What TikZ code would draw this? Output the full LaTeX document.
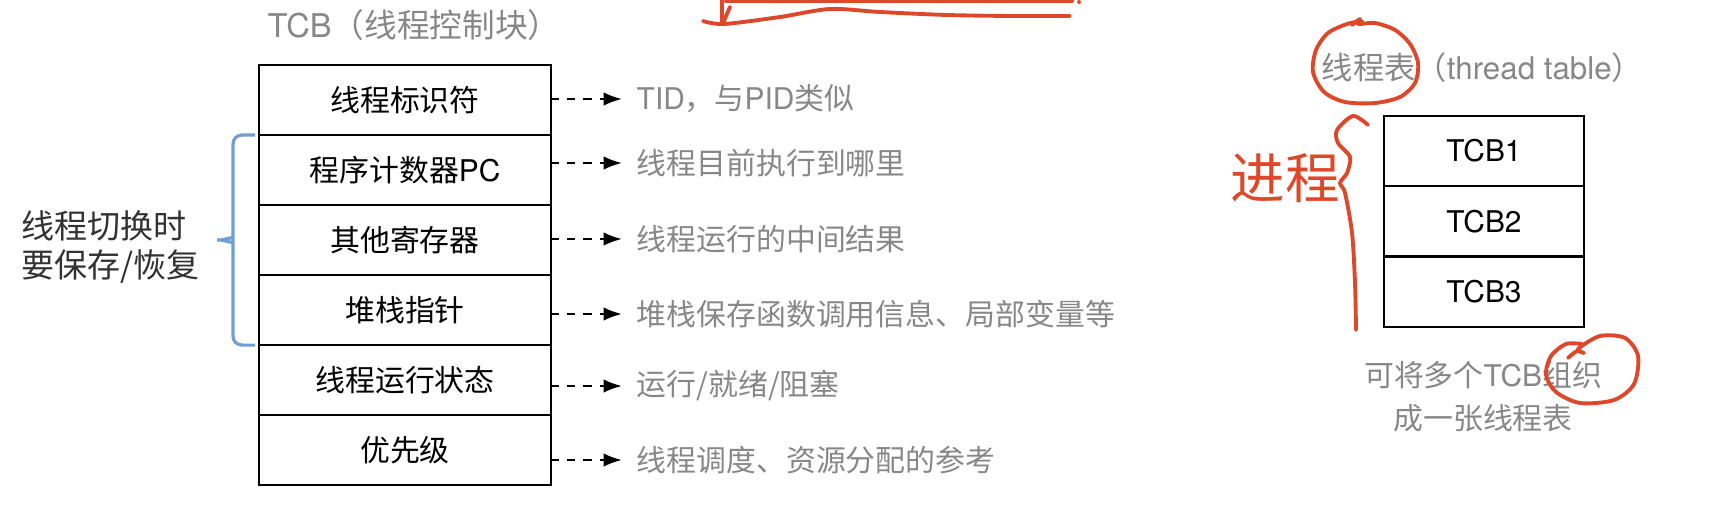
\documentclass[tikz,border=0pt]{standalone}
\usepackage{fontspec}
\setmainfont{TeX Gyre Heros}
\newfontfamily\cjk{Noto Sans CJK SC}
\newfontfamily\lat{TeX Gyre Heros}
\usetikzlibrary{arrows.meta,positioning}
\definecolor{notegray}{RGB}{135,135,135}
\definecolor{labelgray}{RGB}{50,50,50}
\definecolor{bracecol}{RGB}{112,158,212}
\definecolor{ink}{RGB}{222,72,42}

\begin{document}
\begin{tikzpicture}[x=0.01cm,y=-0.01cm,node distance=0pt,>={Latex[length=5.2pt,width=3.8pt]},
  cell/.style={draw,line width=0.6pt,outer sep=0pt,inner sep=0pt,minimum width=2.92cm,minimum height=0.70cm,font=\cjk\fontsize{8.5}{10}\selectfont},
  tcbcell/.style={cell,minimum width=2.0cm,minimum height=0.703cm},
  desc/.style={anchor=west,inner sep=2pt,text=notegray,font=\cjk\fontsize{8.5}{10}\selectfont},
  arr/.style={->,line width=0.6pt,dash pattern=on 2.3pt off 2.3pt,shorten >=2pt},
  inkline/.style={draw=ink,line width=1.1pt,line cap=round,line join=round}]
\useasboundingbox (0,0) rectangle (1728,512);
\node[anchor=west,inner sep=0pt,text=notegray,font=\cjk\fontsize{9.3}{11}\selectfont] (tcbtitle) at (267,25) {{\lat TCB}（线程控制块）};
\node[cell] (tid) at (405,100) {线程标识符};
\node[cell,below=of tid] (pc) {程序计数器{\lat PC}};
\node[cell,below=of pc] (regs) {其他寄存器};
\node[cell,below=of regs] (sp) {堆栈指针};
\node[cell,below=of sp] (state) {线程运行状态};
\node[cell,below=of state] (prio) {优先级};
\node[desc] (tidnote) at (629,99) {{\lat TID}，与{\lat PID}类似};
\node[desc] (pcnote) at (629,163) {线程目前执行到哪里};
\node[desc] (regsnote) at (629,239) {线程运行的中间结果};
\node[desc] (spnote) at (629,314) {堆栈保存函数调用信息、局部变量等};
\node[desc] (statenote) at (629,386) {运行/就绪/阻塞};
\node[desc] (prionote) at (629,460) {线程调度、资源分配的参考};
\draw[arr] (tid.east |- tidnote) -- (tidnote);
\draw[arr] (pc.east |- pcnote) -- (pcnote);
\draw[arr] (regs.east |- regsnote) -- (regsnote);
\draw[arr] (sp.east |- spnote) -- (spnote);
\draw[arr] (state.east |- statenote) -- (statenote);
\draw[arr] (prio.east |- prionote) -- (prionote);
\draw[bracecol,line width=0.9pt,rounded corners=2.5pt] ([xshift=-1.1pt]pc.north west) -- ++(-22,0) -- ++(0,99) to[out=270,in=0] ++(-21,6) to[out=0,in=90] ++(21,6) -- ++(0,99) -- ([xshift=-1.1pt]sp.south west);
\node[anchor=west,inner sep=0pt,align=left,text=labelgray,font=\cjk\fontsize{9.4}{11.1}\selectfont] (savelabel) at (21,247) {线程切换时\\要保存/恢复};
\node[anchor=west,inner sep=0pt,text=notegray,font=\cjk\fontsize{8.9}{10}\selectfont] (tabletitle) at (1321,68) {线程表（{\lat thread table}）};
\node[tcbcell,font=\lat\fontsize{8.5}{10}\selectfont] (tcb1) at (1484,151) {TCB1};
\node[tcbcell,font=\lat\fontsize{8.5}{10}\selectfont,below=of tcb1] (tcb2) {TCB2};
\node[tcbcell,font=\lat\fontsize{8.5}{10}\selectfont,below=of tcb2] (tcb3) {TCB3};
\node[align=center,inner sep=0pt,text=notegray,font=\cjk\fontsize{8.5}{12.3}\selectfont] (tablenote) at (1483,397) {可将多个{\lat TCB}组织\\成一张线程表};
% handwritten marks
\draw[inkline] (722,0) -- (722,23);
\draw[inkline] (730,7) -- (723,23);
\draw[inkline] plot[smooth] coordinates {(703,21) (724,24) (780,17) (830,9) (880,12) (947,15) (1013,16) (1070,16)};
\draw[inkline] (726,1) -- (1072,1);
\fill[ink] (1079,2) circle (2);
\draw[inkline] plot[smooth] coordinates {(1352,25) (1360,19) (1358,24) (1375,23) (1395,30) (1410,44) (1418,63) (1415,83) (1400,97) (1375,103) (1345,102) (1324,92) (1313,72) (1316,50) (1328,33) (1347,24) (1362,21)};
\draw[inkline] plot[smooth] coordinates {(1568,358) (1577,351) (1584,353) (1578,349) (1600,336) (1625,338) (1638,356) (1634,384) (1614,400) (1580,403) (1556,392) (1546,375) (1551,356) (1566,344) (1582,344)};
\node[text=ink,inner sep=0pt,font=\cjk\fontsize{15.5}{16}\selectfont] (jincheng) at (1285,178) {进程};
\draw[inkline] plot[smooth] coordinates {(1368,125) (1353,116) (1337,130) (1338,143) (1350,157) (1347,173) (1340,183) (1345,193) (1352,233) (1355,283) (1356,330)};
\end{tikzpicture}
\end{document}
